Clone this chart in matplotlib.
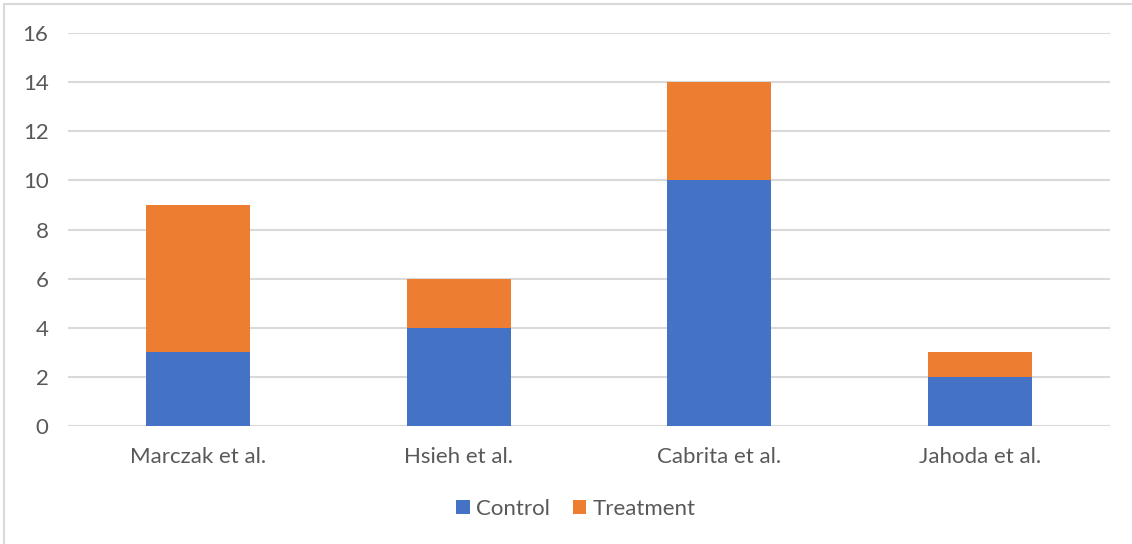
import numpy as np
import matplotlib.pyplot as plt
from matplotlib.patches import Rectangle

studies = ['Marczak et al.', 'Hsieh et al.', 'Cabrita et al.', 'Jahoda et al.']
control = [3, 4, 10, 2]
treatment = [6, 2, 4, 1]
yticks = [0, 2, 4, 6, 8, 10, 12, 14, 16]

plt.rcParams['font.family'] = ['Lato', 'DejaVu Sans']

W, H = 1132, 544
fig = plt.figure(figsize=(W / 100, H / 100), dpi=100)
ax = fig.add_axes([68 / W, 1 - 426 / H, (1110 - 68) / W, (426 - 33) / H])

x = np.arange(len(studies))
ax.bar(x, control, width=0.4, color='#4472C4', label='Control', zorder=3)
ax.bar(x, treatment, width=0.4, bottom=control, color='#ED7D31',
       label='Treatment', zorder=3)

ax.set_xlim(-0.5, len(studies) - 0.5)
ax.set_ylim(0, 16)
ax.set_yticks(yticks)
ax.set_xticks(x)
ax.set_xticklabels(studies)
ax.tick_params(axis='both', length=0, labelsize=16, labelcolor='#595959')
ax.tick_params(axis='y', pad=14)
ax.tick_params(axis='x', pad=15)
ax.grid(axis='y', color='#d9d9d9', linewidth=1.5, zorder=0)
for s in ax.spines.values():
    s.set_visible(False)

leg = fig.legend(loc='center', bbox_to_anchor=(576 / W, 1 - 509 / H), ncol=2,
                 frameon=False, fontsize=16, handlelength=0.6,
                 handleheight=0.6, handletextpad=0.3, columnspacing=1.0)
for t in leg.get_texts():
    t.set_color('#595959')

# light outline around the chart area
fig.patches.append(Rectangle((4 / W, -0.01), 1.02, 1 - 4 / H + 0.01,
                             transform=fig.transFigure, fill=False,
                             edgecolor='#d9d9d9', linewidth=1.5))

fig.savefig('out.png', dpi=100)
